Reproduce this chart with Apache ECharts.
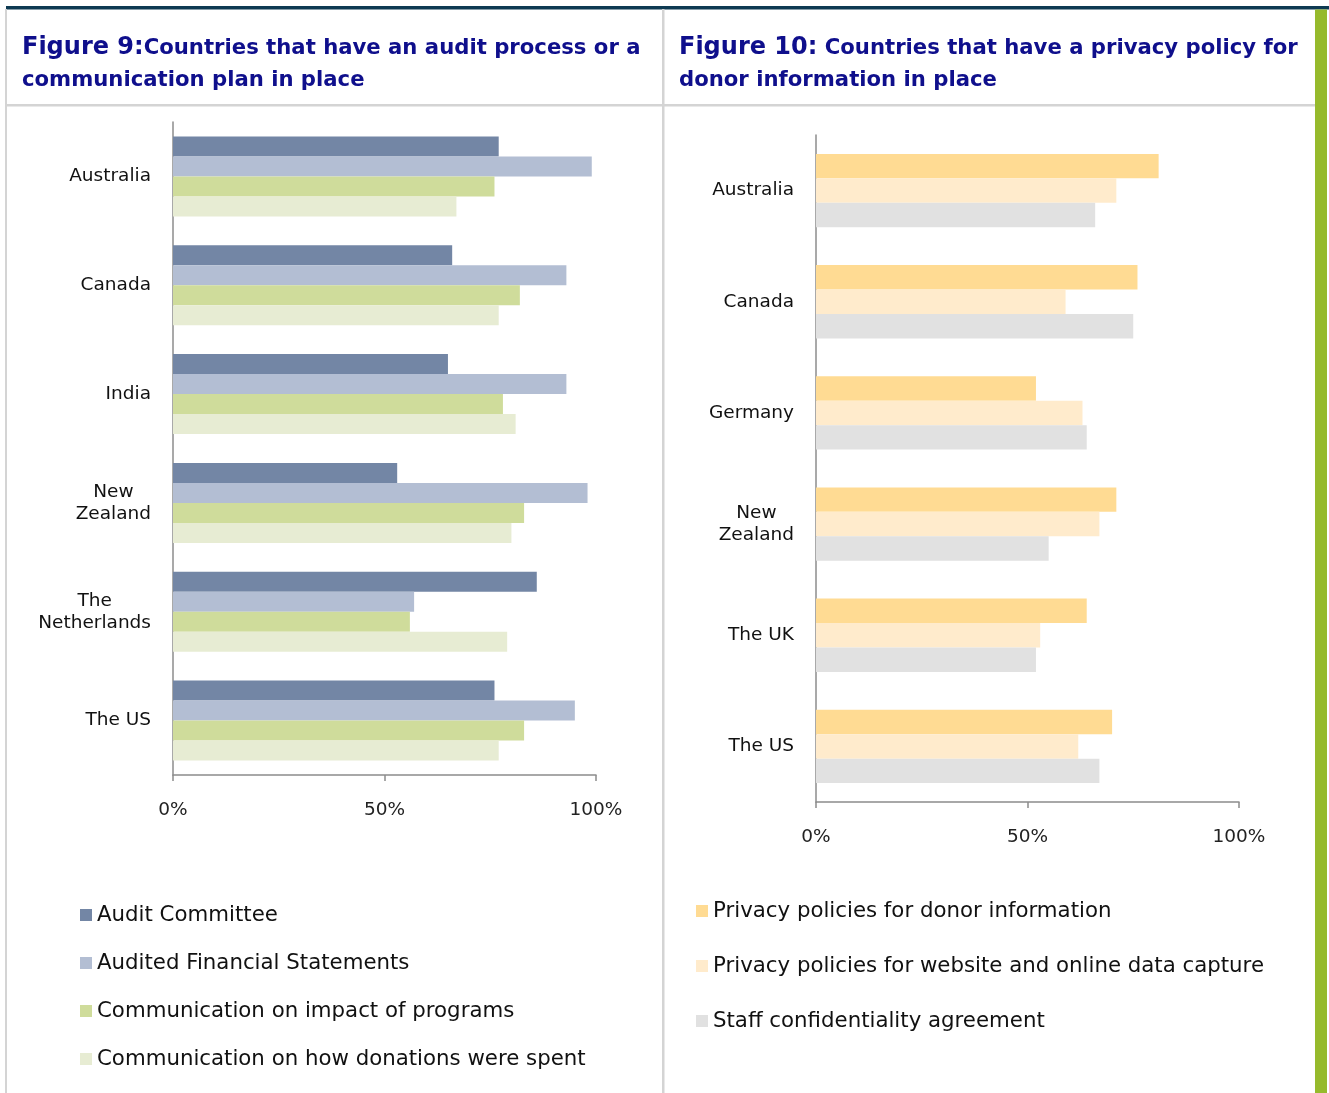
<!DOCTYPE html>
<html>
<head>
<meta charset="utf-8">
<script src="https://cdn.jsdelivr.net/npm/echarts@6/dist/echarts.min.js"></script>
<style>
html,body{margin:0;padding:0;background:#fff;}
#main{width:1329px;height:1093px;}
</style>
</head>
<body>
<div id="main"></div>
<script>
// ---------- data ----------
const categories1 = ['Australia', 'Canada', 'India', 'New\nZealand', 'The\nNetherlands', 'The US'];
const auditCommittee = [77, 66, 65, 53, 86, 76];
const auditedFinancial = [99, 93, 93, 98, 57, 95];
const commImpact = [76, 82, 78, 83, 56, 83];
const commDonations = [67, 77, 81, 80, 79, 77];
const seriesNames1 = ['Audit Committee', 'Audited Financial Statements', 'Communication on impact of programs', 'Communication on how donations were spent'];

const categories2 = ['Australia', 'Canada', 'Germany', 'New\nZealand', 'The UK', 'The US'];
const privacyDonor = [81, 76, 52, 71, 64, 70];
const privacyWebsite = [71, 59, 63, 67, 53, 62];
const staffConf = [66, 75, 64, 55, 52, 67];
const seriesNames2 = ['Privacy policies for donor information', 'Privacy policies for website and online data capture', 'Staff confidentiality agreement'];

const xTicks = [0, 50, 100];
const title1 = ['Figure 9:', 'Countries that have an audit process or a', 'communication plan in place'];
const title2 = ['Figure 10:', ' Countries that have a privacy policy for', 'donor information in place'];

// ---------- styles ----------
const FONT = '"DejaVu Sans", Verdana, sans-serif';
const colors1 = ['#7386a5', '#b3bed3', '#cfdc9b', '#e7ecd3'];
const colors2 = ['#ffdb93', '#ffebcc', '#e1e1e1'];
const axisGray = '#8c8c8c';

function catLabel(v) {
  if (v.indexOf('\n') < 0) return v;
  return v.split('\n').map(l => '{c|' + l + '}').join('\n');
}
function yAxis(gridIndex, cats) {
  return {
    type: 'category', gridIndex, data: cats, inverse: true,
    axisLine: {lineStyle: {color: axisGray, width: 1.5}},
    axisTick: {length: 6, lineStyle: {color: axisGray, width: 1.5}},
    axisLabel: {
      margin: 22, color: '#111', fontSize: 18.5, fontFamily: FONT, lineHeight: 22,
      formatter: catLabel,
      rich: {c: {align: 'center', color: '#111', fontSize: 18.5, fontFamily: FONT, lineHeight: 22}}
    }
  };
}
function xAxis(gridIndex) {
  return {
    type: 'value', gridIndex, min: xTicks[0], max: xTicks[xTicks.length - 1], interval: xTicks[1] - xTicks[0],
    splitLine: {show: false},
    axisLine: {show: true, lineStyle: {color: axisGray, width: 1.5}},
    axisTick: {show: true, length: 6, lineStyle: {color: axisGray, width: 1.5}},
    axisLabel: {margin: 26, color: '#222', fontSize: 18.5, fontFamily: FONT, formatter: '{value}%'}
  };
}
function titleRich(t) {
  return {
    padding: 0,
    text: '{a|' + t[0] + '}{b|' + t[1] + '}\n{b|' + t[2] + '}',
    textStyle: {
      rich: {
        a: {fontSize: 24, fontWeight: 'bold', color: '#0f0f8c', fontFamily: FONT, lineHeight: 32},
        b: {fontSize: 21.2, fontWeight: 'bold', color: '#0f0f8c', fontFamily: FONT, lineHeight: 32}
      }
    }
  };
}

const series = [];
[auditCommittee, auditedFinancial, commImpact, commDonations].forEach((d, i) => {
  series.push({
    type: 'bar', name: seriesNames1[i], xAxisIndex: 0, yAxisIndex: 0, data: d,
    itemStyle: {color: colors1[i]}, barGap: '0%', barCategoryGap: '26.5%', silent: true
  });
});
[privacyDonor, privacyWebsite, staffConf].forEach((d, i) => {
  series.push({
    type: 'bar', name: seriesNames2[i], xAxisIndex: 1, yAxisIndex: 1, data: d,
    itemStyle: {color: colors2[i]}, barGap: '0%', barCategoryGap: '34%', silent: true
  });
});

const legendText = {color: '#111', fontSize: 21.3, fontFamily: FONT, lineHeight: 24};

const chart = echarts.init(document.getElementById('main'), null, {renderer: 'canvas'});
chart.setOption({
  animation: false,
  backgroundColor: '#fff',
  title: [
    Object.assign({left: 22, top: 32}, titleRich(title1)),
    Object.assign({left: 679, top: 32}, titleRich(title2))
  ],
  graphic: [
    {type: 'rect', shape: {x: 6, y: 6, width: 1323, height: 3.5}, style: {fill: '#0e3a52'}, silent: true},
    {type: 'rect', shape: {x: 5, y: 9, width: 2, height: 1084}, style: {fill: '#d4d4d4'}, silent: true},
    {type: 'rect', shape: {x: 662, y: 9, width: 2.5, height: 1084}, style: {fill: '#d4d4d4'}, silent: true},
    {type: 'rect', shape: {x: 6, y: 104, width: 1309, height: 2.5}, style: {fill: '#d4d4d4'}, silent: true},
    {type: 'rect', shape: {x: 1315, y: 9.5, width: 12, height: 1084}, style: {fill: '#96ba2c'}, silent: true}
  ],
  grid: [
    {left: 173, top: 122, width: 423, height: 653},
    {left: 816, top: 135, width: 423, height: 667}
  ],
  xAxis: [xAxis(0), xAxis(1)],
  yAxis: [yAxis(0, categories1), yAxis(1, categories2)],
  legend: [
    {data: seriesNames1, orient: 'vertical', left: 80, top: 903, padding: 0, itemWidth: 12, itemHeight: 12, itemGap: 24,
     icon: 'rect', textStyle: legendText, selectedMode: false},
    {data: seriesNames2, orient: 'vertical', left: 696, top: 899, padding: 0, itemWidth: 12, itemHeight: 12, itemGap: 31,
     icon: 'rect', textStyle: legendText, selectedMode: false}
  ],
  series
});
</script>
</body>
</html>
